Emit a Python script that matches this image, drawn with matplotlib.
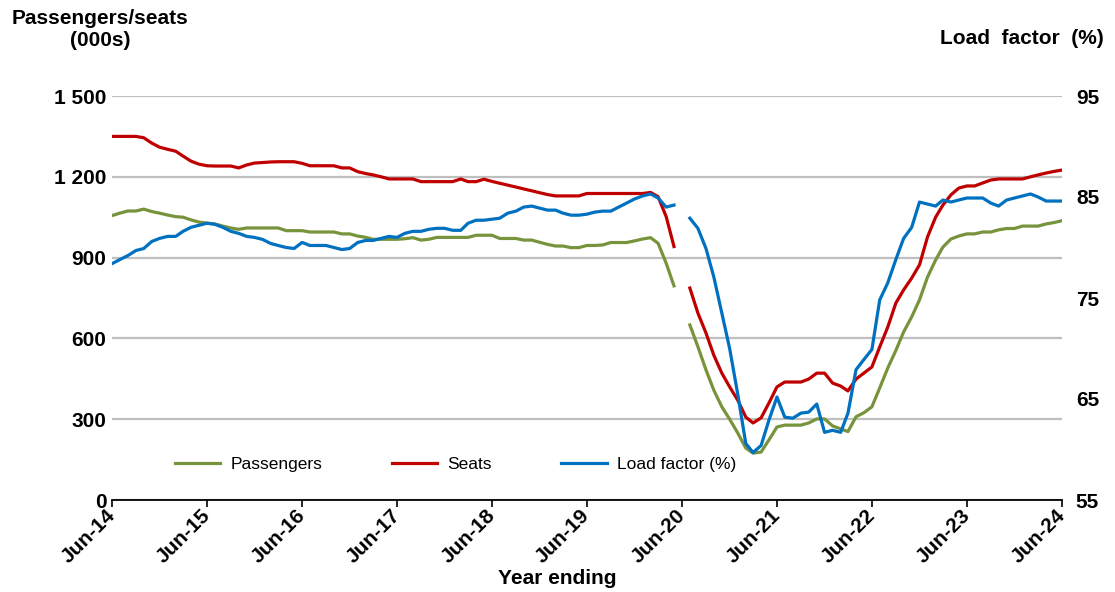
import numpy as np
import pandas as pd
import matplotlib
matplotlib.use("Agg")
import matplotlib.pyplot as plt
import matplotlib.dates as mdates

plt.rcParams['font.family'] = ['Liberation Sans', 'DejaVu Sans']

nan = np.nan
months = pd.date_range("2014-06-01", "2024-06-01", freq="MS")

seats = [1350, 1350, 1350, 1350, 1345, 1325, 1310, 1302, 1295, 1277, 1258, 1247, 1241, 1240, 1240, 1240,
         1233, 1244, 1251, 1253, 1255, 1256, 1256, 1256, 1250, 1241, 1241, 1241, 1241, 1233, 1233, 1219,
         1212, 1207, 1200, 1192, 1192, 1192, 1192, 1182, 1182, 1182, 1182, 1182, 1192, 1182, 1182, 1191,
         1183, 1176, 1169, 1162, 1155, 1148, 1141, 1134, 1129, 1129, 1129, 1129, 1138, 1138, 1138, 1138,
         1138, 1138, 1138, 1138, 1142, 1126, 1052, 941, nan, 787, 694, 620, 538, 471, 420, 371,
         308, 286, 305, 360, 420, 438, 438, 438, 449, 471, 471, 434, 423, 405, 449, 471,
         494, 568, 642, 731, 780, 824, 873, 977, 1050, 1095, 1133, 1158, 1166, 1166, 1177, 1188,
         1192, 1192, 1192, 1192, 1200, 1207, 1214, 1220, 1225]

passengers = [1056, 1065, 1073, 1073, 1080, 1071, 1065, 1058, 1052, 1050, 1040, 1032, 1028, 1025, 1017, 1010,
              1005, 1010, 1010, 1010, 1010, 1010, 1000, 1000, 1000, 995, 995, 995, 995, 988, 988, 980,
              975, 968, 968, 968, 968, 970, 974, 965, 968, 975, 975, 975, 975, 975, 983, 983,
              983, 971, 971, 971, 965, 965, 957, 949, 943, 943, 937, 937, 945, 945, 947, 956,
              956, 956, 962, 969, 974, 953, 879, 795, nan, 650, 569, 483, 408, 346, 300, 249,
              193, 174, 178, 223, 271, 278, 278, 278, 286, 301, 301, 275, 264, 254, 309, 324,
              346, 416, 490, 555, 624, 680, 743, 828, 891, 939, 969, 980, 988, 988, 995, 995,
              1003, 1008, 1008, 1017, 1017, 1017, 1025, 1030, 1037]

load_factor = [78.4, 78.8, 79.2, 79.7, 79.9, 80.6, 80.9, 81.1, 81.1, 81.6, 82.0, 82.2, 82.4, 82.3, 82.0, 81.6,
               81.4, 81.1, 81.0, 80.8, 80.4, 80.2, 80.0, 79.9, 80.5, 80.2, 80.2, 80.2, 80.0, 79.8, 79.9, 80.5,
               80.7, 80.7, 80.9, 81.1, 81.0, 81.4, 81.6, 81.6, 81.8, 81.9, 81.9, 81.7, 81.7, 82.4, 82.7, 82.7,
               82.8, 82.9, 83.4, 83.6, 84.0, 84.1, 83.9, 83.7, 83.7, 83.4, 83.2, 83.2, 83.3, 83.5, 83.6, 83.6,
               84.0, 84.4, 84.8, 85.1, 85.3, 84.9, 84.0, 84.2, nan, 82.9, 81.9, 79.9, 77.1, 73.5, 70.0, 65.5,
               60.6, 59.7, 60.4, 62.9, 65.2, 63.2, 63.1, 63.6, 63.7, 64.5, 61.7, 61.9, 61.7, 63.6, 67.9, 68.9,
               69.9, 74.8, 76.5, 78.8, 80.9, 82.0, 84.5, 84.3, 84.1, 84.7, 84.5, 84.7, 84.9, 84.9, 84.9, 84.4,
               84.1, 84.7, 84.9, 85.1, 85.3, 85.0, 84.6, 84.6, 84.6]

left_ticks = [0, 300, 600, 900, 1200, 1500]
left_labels = ["0", "300", "600", "900", "1 200", "1 500"]
right_ticks = [55, 65, 75, 85, 95]
xtick_dates = pd.date_range("2014-06-01", "2024-06-01", freq="12MS")

C_PAX = "#77933C"
C_SEATS = "#C00000"
C_LF = "#0070C0"

fig = plt.figure(figsize=(11.15, 5.92), dpi=100)
ax = fig.add_axes([112/1115, 1-500/592, (1062-112)/1115, (500-96)/592])
ax2 = ax.twinx()

l1, = ax.plot(months, passengers, color=C_PAX, lw=2.3, label="Passengers", zorder=3)
l2, = ax.plot(months, seats, color=C_SEATS, lw=2.3, label="Seats", zorder=3)
l3, = ax2.plot(months, load_factor, color=C_LF, lw=2.3, label="Load factor (%)", zorder=4)

ax.set_xlim(months[0], months[-1])
ax.set_ylim(0, 1500)
ax2.set_ylim(55, 95)

ax.set_yticks(left_ticks)
ax.set_yticklabels(left_labels)
ax2.set_yticks(right_ticks)

for a in (ax, ax2):
    for s in ("left", "right", "top"):
        a.spines[s].set_visible(False)
ax2.spines["bottom"].set_visible(False)
ax.spines["bottom"].set_color("#000000")
ax.spines["bottom"].set_linewidth(1.3)
ax.spines["bottom"].set_zorder(5)

ax.grid(axis="y", color="#BFBFBF", lw=1.6)
ax.set_axisbelow(True)

ax.tick_params(axis="y", length=0, pad=4, labelsize=15)
ax2.tick_params(axis="y", length=0, pad=10, labelsize=15)
for lab in ax.get_yticklabels() + ax2.get_yticklabels():
    lab.set_fontweight("bold")

ax.set_xticks(xtick_dates)
ax.xaxis.set_major_formatter(mdates.DateFormatter("%b-%y"))
ax.tick_params(axis="x", length=5, width=1.2, direction="out", pad=4, labelsize=15)
for lab in ax.get_xticklabels():
    lab.set_rotation(45)
    lab.set_ha("right")
    lab.set_va("center")
    lab.set_rotation_mode("anchor")
    lab.set_fontweight("bold")

fig.text(557/1115, 1-578/592, "Year ending", ha="center", va="center", fontsize=15, fontweight="bold")
fig.text(100/1115, 1-30/592, "Passengers/seats\n(000s)", ha="center", va="center",
         fontsize=15, fontweight="bold", linespacing=1.2)
fig.text(1104/1115, 1-38/592, "Load  factor  (%)", ha="right", va="center", fontsize=15, fontweight="bold")

leg = ax.legend(handles=[l1, l2, l3], loc="center left", bbox_to_anchor=((175-112)/950, (500-464)/404),
                ncol=3, frameon=False, fontsize=12.5, handlelength=2.6, handletextpad=0.6,
                columnspacing=4.0, borderaxespad=0, borderpad=0)
leg.set_zorder(10)

fig.savefig("out.png", dpi=100)
